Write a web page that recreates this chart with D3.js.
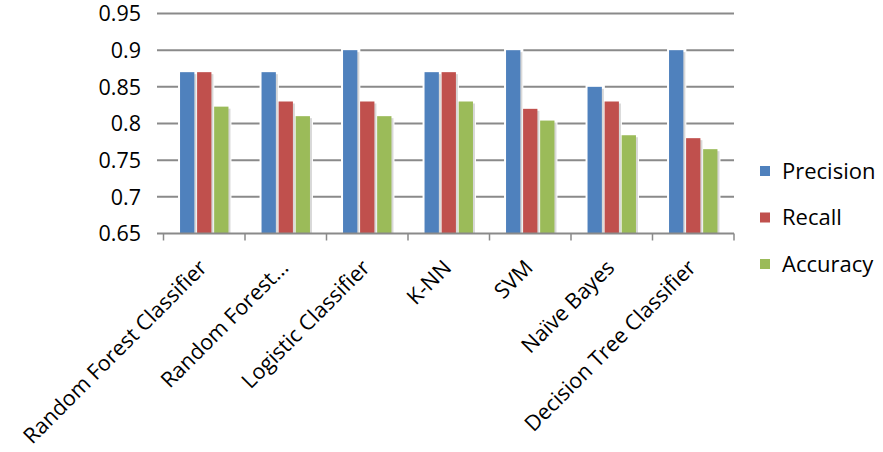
<!DOCTYPE html>
<html><head><meta charset="utf-8">
<script src="https://cdn.jsdelivr.net/npm/d3@7"></script>
<style>html,body{margin:0;padding:0;background:#fff;}svg{display:block;}</style>
</head><body>
<svg id="chart" width="883" height="452"></svg>
<script>
const categories = ["Random Forest Classifier","Random Forest...","Logistic Classifier","K-NN","SVM","Naïve Bayes","Decision Tree Classifier"];
const seriesNames = ["Precision","Recall","Accuracy"];
const precision = [0.87,0.87,0.90,0.87,0.90,0.85,0.90];
const recall    = [0.87,0.83,0.83,0.87,0.82,0.83,0.78];
const accuracy  = [0.823,0.81,0.81,0.83,0.804,0.784,0.765];
const yTicks = [0.65,0.7,0.75,0.8,0.85,0.9,0.95];
const yTickLabels = ["0.65","0.7","0.75","0.8","0.85","0.9","0.95"];
const colors = ["#4F81BD","#C0504D","#9BBB59"];

const seriesValues = [precision, recall, accuracy];
const svg = d3.select("#chart");
const font = "'Open Sans', sans-serif";

const y = d3.scaleLinear().domain([0.65,0.95]).range([233.5,13.5]);
const x = d3.scaleBand().domain(categories).range([163.5,734]).paddingInner(0).paddingOuter(0);
const inner = d3.scaleBand().domain(seriesNames).range([0, x.bandwidth()]).paddingInner(0.16).paddingOuter(0.97);

// gridlines
svg.append("g").selectAll("line").data(yTicks.slice(1)).join("line")
  .attr("x1",157).attr("x2",734)
  .attr("y1",d=>y(d)).attr("y2",d=>y(d))
  .attr("stroke","#8a8a8a").attr("stroke-width",2);

// y tick labels
svg.append("g").selectAll("text").data(yTicks).join("text")
  .attr("x",141).attr("y",d=>y(d))
  .attr("dy","0.36em")
  .attr("text-anchor","end")
  .style("font-family",font).style("font-size","21.5px").attr("fill","#000")
  .text((d,i)=>yTickLabels[i]);

// bars
const groups = svg.append("g").selectAll("g").data(categories).join("g")
  .attr("transform",d=>`translate(${x(d)},0)`);
groups.each(function(cat,ci){
  const g = d3.select(this);
  seriesNames.forEach((s,si)=>{
    const v = seriesValues[si][ci];
    const bx = inner(s), bw = inner.bandwidth();
    g.append("rect").attr("x",bx-2).attr("y",y(v)-2).attr("width",bw+5).attr("height",y(0.65)-y(v)+2).attr("fill","#fff");
  });
  seriesNames.forEach((s,si)=>{
    const v = seriesValues[si][ci];
    const bx = inner(s), bw = inner.bandwidth();
    g.append("rect").attr("x",bx+2).attr("y",y(v)+2).attr("width",bw).attr("height",y(0.65)-y(v)-2).attr("fill","#d8d8d8");
    g.append("rect").attr("x",bx).attr("y",y(v)).attr("width",bw).attr("height",y(0.65)-y(v)).attr("fill",colors[si]);
  });
});

// x axis line and ticks
svg.append("line").attr("x1",157).attr("x2",734).attr("y1",y(0.65)).attr("y2",y(0.65))
  .attr("stroke","#8a8a8a").attr("stroke-width",2);
const tickXs = categories.map(c=>x(c)).concat([x.range()[1]]);
svg.append("g").selectAll("line").data(tickXs).join("line")
  .attr("x1",d=>d).attr("x2",d=>d).attr("y1",y(0.65)).attr("y2",y(0.65)+7)
  .attr("stroke","#8a8a8a").attr("stroke-width",1.5);

// category labels
svg.append("g").selectAll("text").data(categories).join("text")
  .attr("transform",d=>`translate(${x(d)+x.bandwidth()/2+4},${269}) rotate(-45)`)
  .attr("text-anchor","end")
  .style("font-family",font).style("font-size","21.5px").attr("fill","#000")
  .text(d=>d);

// legend
const leg = svg.append("g").selectAll("g").data(seriesNames).join("g")
  .attr("transform",(d,i)=>`translate(760,${171+i*46.5})`);
leg.append("rect").attr("x",0).attr("y",-5).attr("width",10).attr("height",10).attr("fill",(d,i)=>colors[i]);
leg.append("text").attr("x",22).attr("y",0).attr("dy","0.36em")
  .style("font-family",font).style("font-size","22px").attr("fill","#000").text(d=>d);
</script>
</body></html>
